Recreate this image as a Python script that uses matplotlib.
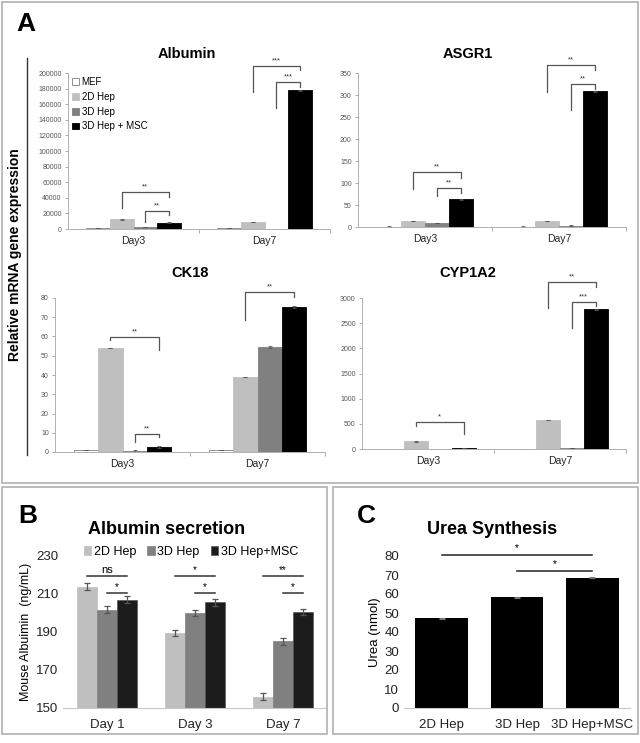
import matplotlib
matplotlib.use("Agg")
import matplotlib.pyplot as plt
import numpy as np
from matplotlib.patches import Patch, Rectangle
from matplotlib.lines import Line2D

plt.rcParams['font.family'] = ['Liberation Sans', 'DejaVu Sans']

W, H = 640, 743

# ---- panel A data (relative mRNA expression) ----
groups_a = ['MEF', '2D Hep', '3D Hep', '3D Hep + MSC']
days_a = ['Day3', 'Day7']
colors_a = ['#ffffff', '#bfbfbf', '#808080', '#000000']

albumin_d3 = [1000, 12500, 2500, 8000]
albumin_d7 = [1000, 9000, 300, 178000]
albumin_err_d3 = [300, 400, 300, 500]
albumin_err_d7 = [300, 300, 200, 800]

asgr1_d3 = [1, 14, 9, 63]
asgr1_d7 = [1, 14, 3, 308]
asgr1_err_d3 = [1, 0.5, 1, 1]
asgr1_err_d7 = [1, 0.5, 1, 1.5]

ck18_d3 = [1, 54, 0.5, 2.7]
ck18_d7 = [1, 39, 54.5, 75.3]
ck18_err_d3 = [0.2, 0.2, 0.4, 0.5]
ck18_err_d7 = [0.2, 0.2, 0.4, 0.4]

cyp1a2_d3 = [5, 152, 5, 15]
cyp1a2_d7 = [5, 583, 15, 2781]
cyp1a2_err_d3 = [2, 3, 2, 5]
cyp1a2_err_d7 = [2, 3, 5, 10]

# brackets: (day, bar_from, bar_to, y_top, y_left_end, y_right_end, label)
albumin_br = [(0, 1, 3, 47400, 27000, 41000, '**'),
              (0, 2, 3, 23000, 9000, 18000, '**'),
              (1, 1, 3, 209000, 176000, 204000, '***'),
              (1, 2, 3, 188000, 155000, 182000, '***')]
asgr1_br = [(0, 1, 3, 125, 86, 111, '**'),
            (0, 2, 3, 89, 70, 77, '**'),
            (1, 1, 3, 368, 307, 357, '**'),
            (1, 2, 3, 325, 266, 314, '**')]
ck18_br = [(0, 1, 3, 59.7, 58, 53, '**'),
           (0, 2, 3, 9.4, 5.3, 7.8, '**'),
           (1, 1, 3, 83, 68.6, 80.5, '**')]
cyp1a2_br = [(0, 1, 3, 536, 457, 298, '*'),
             (1, 1, 3, 3318, 2801, 3218, '**'),
             (1, 2, 3, 2920, 2404, 2841, '***')]

# ---- panel B data (albumin secretion) ----
groups_b = ['2D Hep', '3D Hep', '3D Hep+MSC']
days_b = ['Day 1', 'Day 3', 'Day 7']
colors_b = ['#bfbfbf', '#808080', '#1c1c1c']
alb_2d = [213.3, 189.3, 156.0]
alb_3d = [201.5, 199.6, 184.8]
alb_msc = [206.7, 205.2, 200.2]
alb_err_2d = [1.8, 1.6, 1.8]
alb_err_3d = [1.7, 1.6, 1.7]
alb_err_msc = [1.7, 1.8, 1.8]

# ---- panel C data (urea synthesis) ----
urea_groups = ['2D Hep', '3D Hep', '3D Hep+MSC']
urea_vals = [47.2, 58.3, 68.6]
urea_err = [0.4, 0.3, 0.4]


def px_axes(fig, left, top, right, bottom):
    return fig.add_axes([left / W, 1 - bottom / H, (right - left) / W, (bottom - top) / H])


def fig_text(fig, x, y, s, **kw):
    fig.text(x / W, 1 - y / H, s, **kw)


fig = plt.figure(figsize=(W / 100, H / 100), dpi=100)

# panel frames
frame_kw = dict(fill=False, edgecolor='#b0b0b0', lw=1.2, transform=fig.transFigure)
for (l, t, r, b) in [(2, 2, 638, 483), (2, 487, 327, 734), (333, 487, 638, 734)]:
    fig.patches.append(Rectangle((l / W, 1 - b / H), (r - l) / W, (b - t) / H, **frame_kw))

BAR_W = 0.18
OFFS = np.array([-1.5, -0.5, 0.5, 1.5]) * BAR_W


def qpcr(ax, d3, d7, e3, e7, ymax, ystep, brackets):
    vals = np.array([d3, d7])
    errs = np.array([e3, e7])
    x = np.arange(2)
    for i in range(4):
        ax.bar(x + OFFS[i], vals[:, i], BAR_W, color=colors_a[i],
               edgecolor='#7f7f7f' if i == 0 else colors_a[i], lw=0.6,
               yerr=errs[:, i], ecolor='#555555',
               error_kw=dict(lw=0.6, capsize=1.5, capthick=0.6),
               label=groups_a[i], zorder=2)
    ax.set_xlim(-0.5, 1.5)
    ax.set_ylim(0, ymax)
    ax.set_yticks(np.arange(0, ymax + ystep / 2, ystep))
    ax.set_xticks(x)
    ax.set_xticklabels(days_a, fontsize=7.5, color='#222222')
    ax.set_xticks([0.5, 1.5], minor=True)
    ax.tick_params(axis='x', which='major', length=0, pad=5)
    ax.tick_params(axis='x', which='minor', length=3, color='#a0a0a0', width=0.6)
    ax.tick_params(axis='y', labelsize=5, labelcolor='#555555', length=2.5,
                   color='#a0a0a0', width=0.6, pad=2)
    for s in ['top', 'right']:
        ax.spines[s].set_visible(False)
    for s in ['left', 'bottom']:
        ax.spines[s].set_color('#b0b0b0')
        ax.spines[s].set_linewidth(0.7)
    for day, a, b, ytop, yl, yr, lab in brackets:
        xa = day + OFFS[a]
        xb = day + OFFS[b]
        ax.plot([xa, xa, xb, xb], [yl, ytop, ytop, yr], color='#555555', lw=0.9,
                clip_on=False, zorder=3)
        ax.text((xa + xb) / 2, ytop + ymax * 0.012, lab, ha='center', va='bottom',
                fontsize=5.5, color='#333333', clip_on=False)


ax1 = px_axes(fig, 68, 73, 330, 229)
qpcr(ax1, albumin_d3, albumin_d7, albumin_err_d3, albumin_err_d7, 200000, 20000, albumin_br)
handles = [Patch(facecolor=colors_a[i], edgecolor='#7f7f7f' if i == 0 else colors_a[i],
                 lw=0.6, label=groups_a[i]) for i in range(4)]
ax1.legend(handles=handles, loc='upper left', bbox_to_anchor=(0.0, 1.0), frameon=False,
           fontsize=7, handlelength=0.7, handleheight=0.7, handletextpad=0.3,
           labelspacing=0.5, borderaxespad=0.2, borderpad=0.2)

ax2 = px_axes(fig, 358, 73, 626, 227)
qpcr(ax2, asgr1_d3, asgr1_d7, asgr1_err_d3, asgr1_err_d7, 350, 50, asgr1_br)

ax3 = px_axes(fig, 55, 298, 325, 452)
qpcr(ax3, ck18_d3, ck18_d7, ck18_err_d3, ck18_err_d7, 80, 10, ck18_br)

ax4 = px_axes(fig, 362, 298, 626, 449)
qpcr(ax4, cyp1a2_d3, cyp1a2_d7, cyp1a2_err_d3, cyp1a2_err_d7, 3000, 500, cyp1a2_br)

title_kw = dict(ha='center', va='center', fontsize=10.5, fontweight='bold')
fig_text(fig, 187, 54, 'Albumin', **title_kw)
fig_text(fig, 468, 54, 'ASGR1', **title_kw)
fig_text(fig, 190, 273, 'CK18', **title_kw)
fig_text(fig, 468, 273, 'CYP1A2', **title_kw)

fig_text(fig, 26, 24, 'A', ha='center', va='center', fontsize=19, fontweight='bold')
fig_text(fig, 15, 255, 'Relative mRNA gene expression', ha='center', va='center',
         rotation=90, fontsize=10, fontweight='bold')
fig.add_artist(Line2D([27 / W, 27 / W], [1 - 58 / H, 1 - 455 / H], color='#333333', lw=1.0))

# ---- panel B ----
axb = px_axes(fig, 63, 555, 327, 708)
xb = np.arange(3)
wb = 0.225
vals_b = [alb_2d, alb_3d, alb_msc]
errs_b = [alb_err_2d, alb_err_3d, alb_err_msc]
for i in range(3):
    axb.bar(xb + (i - 1) * wb, np.array(vals_b[i]) - 150, wb, bottom=150,
            color=colors_b[i], edgecolor='#555555' if i == 2 else colors_b[i], lw=0.5,
            yerr=errs_b[i], ecolor='#555555',
            error_kw=dict(lw=0.9, capsize=2.5, capthick=0.9), label=groups_b[i], zorder=2)
axb.set_xlim(-0.5, 2.5)
axb.set_ylim(150, 230)
axb.set_yticks([150, 170, 190, 210, 230])
axb.set_xticks(xb)
axb.set_xticklabels(days_b)
axb.tick_params(axis='both', labelsize=9.5, length=0, colors='#222222')
axb.tick_params(axis='x', pad=8)
for s in ['top', 'right', 'left']:
    axb.spines[s].set_visible(False)
axb.spines['bottom'].set_color('#c8c8c8')
axb.set_ylabel('Mouse Albuimin  (ng/mL)', fontsize=9, labelpad=3)
axb.legend(ncol=3, loc='center', bbox_to_anchor=(0.485, 1.02), frameon=False, fontsize=9,
           handlelength=0.6, handleheight=0.7, handletextpad=0.2, columnspacing=0.9)
sig_b = [('ns', '*'), ('*', '*'), ('**', '*')]
for d in range(3):
    top_lab, low_lab = sig_b[d]
    axb.plot([d - wb, d + wb], [219, 219], color='#333333', lw=1.1, clip_on=False)
    axb.text(d, 219.6, top_lab, ha='center', va='bottom', fontsize=8 if top_lab == 'ns' else 7)
    axb.plot([d, d + wb], [210, 210], color='#333333', lw=1.1, clip_on=False)
    axb.text(d + wb / 2, 210.6, low_lab, ha='center', va='bottom', fontsize=7)

fig_text(fig, 28, 516, 'B', ha='center', va='center', fontsize=19, fontweight='bold')
fig_text(fig, 167, 529, 'Albumin secretion', ha='center', va='center', fontsize=13,
         fontweight='bold')

# ---- panel C ----
axc = px_axes(fig, 404, 556, 630, 708)
xc = np.arange(3)
axc.bar(xc, urea_vals, 0.7, color='#000000', yerr=urea_err, ecolor='#777777',
        error_kw=dict(lw=0.8, capsize=2.5, capthick=0.8), zorder=2)
axc.set_xlim(-0.5, 2.5)
axc.set_ylim(0, 80)
axc.set_yticks(np.arange(0, 81, 10))
axc.set_xticks(xc)
axc.set_xticklabels(urea_groups)
axc.tick_params(axis='both', labelsize=9.5, length=0, colors='#222222')
axc.tick_params(axis='x', pad=8)
for s in ['top', 'right', 'left']:
    axc.spines[s].set_visible(False)
axc.spines['bottom'].set_color('#c8c8c8')
axc.set_ylabel('Urea (nmol)', fontsize=9.5, labelpad=2)
axc.plot([0, 2], [80.5, 80.5], color='#222222', lw=1.1, clip_on=False)
axc.text(1, 81.3, '*', ha='center', va='bottom', fontsize=7)
axc.plot([1, 2], [72.3, 72.3], color='#222222', lw=1.1, clip_on=False)
axc.text(1.5, 73.1, '*', ha='center', va='bottom', fontsize=7)

fig_text(fig, 366, 516, 'C', ha='center', va='center', fontsize=19, fontweight='bold')
fig_text(fig, 492, 529, 'Urea Synthesis', ha='center', va='center', fontsize=13,
         fontweight='bold')

fig.savefig('out.png', dpi=100)
